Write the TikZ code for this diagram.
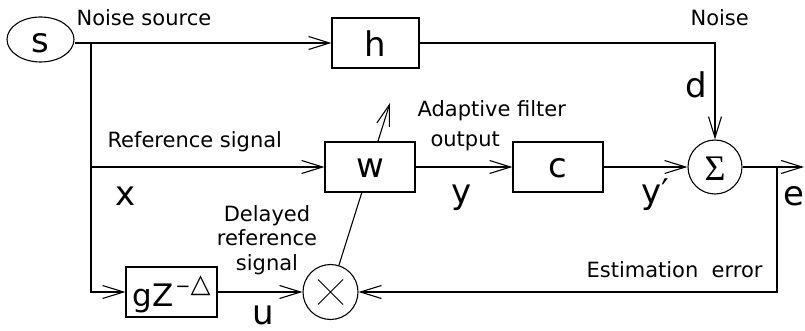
\documentclass[tikz,border=0pt]{standalone}
\usepackage{fontspec}
\setmainfont{DejaVu Sans}
\newfontfamily\sigfont{Liberation Serif}
\usetikzlibrary{arrows.meta,shapes.geometric}
\begin{document}
\begin{tikzpicture}[x=1pt,y=-1pt,
  line width=1.1pt,
  arr/.style={-{Straight Barb[length=21pt,width=13pt]}},
  blk/.style={draw,fill=white,minimum width=90pt,minimum height=50pt,inner sep=0pt,font=\fontsize{34}{34}\selectfont,text depth=0pt},
  lbl/.style={font=\fontsize{21}{24.5}\selectfont,inner sep=0pt},
  var/.style={font=\fontsize{34}{34}\selectfont,inner sep=0pt},
  circ/.style={draw,circle,fill=white,minimum size=55pt,inner sep=0pt}
]
\useasboundingbox (0,0) rectangle (805,331);

% blocks
\node[draw,ellipse,minimum width=67pt,minimum height=45pt,inner sep=0pt,font=\fontsize{34}{34}\selectfont,text height=27pt,text depth=0pt] (s) at (40.5,39.5) {s};
\node[blk,minimum width=87pt,text height=28pt] (h) at (375.5,43) {h};
\node[circ,path picture={\draw[line width=1pt] (path picture bounding box.center) ++(-12.5pt,-12.5pt) -- ++(25pt,25pt) (path picture bounding box.center) ++(-12.5pt,12.5pt) -- ++(25pt,-25pt);}] (m) at (330.5,292) {};
\coordinate (tip) at (390,103);
\draw[arr] (m) -- (tip);
\node[blk,text height=22pt] (w) at (370,167) {w};
\node[blk,text height=22pt] (c) at (558,167) {c};
\node[blk,minimum width=91pt,text height=29pt,font=\fontsize{31}{31}\selectfont] (g) at (171.5,292) {gZ\raisebox{14pt}{\fontsize{18}{18}\selectfont\hspace{2pt}−\fontsize{26}{26}\selectfont△}};
\node[circ,minimum size=54pt,font={\sigfont\fontsize{36}{36}\selectfont},text height=26pt,text depth=0pt] (sum) at (715,167) {Σ};

% coordinates
\coordinate (b1) at (91,43);
\coordinate (eb) at (777,167);
\coordinate (eo) at (804,167);

% connectors
\draw[arr] (h.west -| s.east) -- (h.west);
\draw[arr] (b1) |- (g.west);
\draw[arr] (w.west -| b1) -- (w.west);
\draw[arr] (w.east) -- (c.west);
\draw[arr] (c.east) -- (sum.west);
\draw[arr] (sum.east) -- (eo);
\draw[arr] (h.east) -| (sum.north);
\draw[arr] (eb) |- (m.east);
\draw[arr] (g.east) -- (m.west);

% labels
\node[lbl,anchor=base west] (ns) at (76,26) {Noise source};
\node[lbl,anchor=base west] (nz) at (690,26) {Noise};
\node[lbl,anchor=base west] (rs) at (107,148) {Reference signal};
\node[var,anchor=base] (lx) at (125.5,205) {x};
\node[var,anchor=base] (ld) at (696.5,98) {d};
\node[lbl,anchor=base west,align=left] (af) at (417,147) {Adaptive filter\\[5.5pt]\hspace*{13pt}output};
\node[var,anchor=base] (ly) at (461.5,203) {y};
\node[var,anchor=base west] (lyp) at (641,203) {y′};
\node[var,anchor=base west] (le) at (783,205) {e};
\node[lbl,anchor=base west] (ee) at (586,277) {Estimation\ \ error};
\node[lbl,anchor=base,align=center] (dr) at (267,270) {Delayed\\reference\\signal};
\node[var,anchor=base] (lu) at (263.5,324) {u};
\end{tikzpicture}
\end{document}
